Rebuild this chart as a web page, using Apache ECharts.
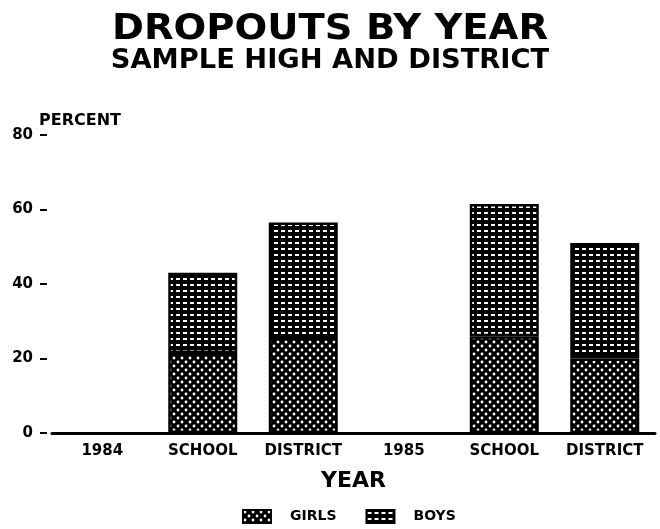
<!DOCTYPE html>
<html>
<head>
<meta charset="utf-8">
<script src="https://cdn.jsdelivr.net/npm/echarts@6/dist/echarts.min.js"></script>
<style>
html,body{margin:0;padding:0;background:#fff;}
#chart{width:660px;height:529px;}
</style>
</head>
<body>
<div id="chart"></div>
<script>
var titleText = 'DROPOUTS BY YEAR';
var subtitleText = 'SAMPLE HIGH AND DISTRICT';
var categories = ['1984', 'SCHOOL', 'DISTRICT', '1985', 'SCHOOL', 'DISTRICT'];
var girls = [null, 21.5, 25.5, null, 26, 20];
var boys = [null, 21.5, 31, null, 35.5, 31];
var yTicks = [0, 20, 40, 60, 80];

var FONT = '"DejaVu Sans", sans-serif';

function makeGirls() {
  var c = document.createElement('canvas');
  c.width = 8; c.height = 8;
  var g = c.getContext('2d');
  g.fillStyle = '#000'; g.fillRect(0, 0, 8, 8);
  g.fillStyle = '#fff';
  [[2, 2], [6, 6]].forEach(function (p) {
    g.beginPath(); g.arc(p[0], p[1], 1.4, 0, Math.PI * 2); g.fill();
  });
  return c;
}
function makeBoys() {
  var c = document.createElement('canvas');
  c.width = 7; c.height = 6;
  var g = c.getContext('2d');
  g.fillStyle = '#000'; g.fillRect(0, 0, 7, 6);
  g.fillStyle = '#fff';
  g.fillRect(1, 2, 4, 2);
  return c;
}
var girlsPattern = { image: makeGirls(), repeat: 'repeat' };
var boysPattern = { image: makeBoys(), repeat: 'repeat' };

var chart = echarts.init(document.getElementById('chart'), null, { renderer: 'canvas' });
chart.setOption({
  backgroundColor: '#fff',
  animation: false,
  textStyle: { fontFamily: FONT },
  graphic: [
    { type: 'text', left: 'center', top: 12, scaleX: 1.1,
      style: { text: titleText, font: 'bold 35px ' + FONT, fill: '#000' } },
    { type: 'text', left: 'center', top: 48, scaleX: 1.05,
      style: { text: subtitleText, font: 'bold 26px ' + FONT, fill: '#000' } }
  ],
  grid: { left: 52, right: 5, top: 135, bottom: 96, containLabel: false },
  legend: {
    left: 237, top: 504,
    itemWidth: 28, itemHeight: 13, itemGap: 29, icon: 'rect',
    textStyle: { fontFamily: FONT, fontWeight: 'bold', fontSize: 14, color: '#000', padding: [0, 0, 0, 14] },
    data: ['GIRLS', 'BOYS']
  },
  xAxis: {
    type: 'category',
    data: categories,
    name: 'YEAR', nameLocation: 'middle', nameGap: 37,
    nameTextStyle: { fontFamily: FONT, fontWeight: 'bold', fontSize: 22, color: '#000' },
    axisLine: { show: true, lineStyle: { color: '#000', width: 3 } },
    axisTick: { show: false },
    axisLabel: { interval: 0, margin: 11, fontFamily: FONT, fontWeight: 'bold', fontSize: 15, color: '#000' },
    splitLine: { show: false }
  },
  yAxis: {
    type: 'value', min: 0, max: 80, interval: 20, offset: 5,
    name: 'PERCENT', nameLocation: 'end', nameGap: 6,
    nameTextStyle: { fontFamily: FONT, fontWeight: 'bold', fontSize: 16, color: '#000', align: 'left', padding: [0, 0, 0, -8] },
    axisLine: { show: false },
    axisTick: { show: true, length: 7, lineStyle: { color: '#000', width: 2 } },
    axisLabel: { margin: 14, fontFamily: FONT, fontWeight: 'bold', fontSize: 15, color: '#000',
      formatter: function (v) { return yTicks.indexOf(v) >= 0 ? String(v) : ''; } },
    splitLine: { show: false }
  },
  series: [
    { name: 'GIRLS', type: 'bar', stack: 'total', data: girls, barWidth: 69,
      itemStyle: { color: girlsPattern, borderColor: '#000', borderWidth: 2.5 } },
    { name: 'BOYS', type: 'bar', stack: 'total', data: boys, barWidth: 69,
      itemStyle: { color: boysPattern, borderColor: '#000', borderWidth: 2.5 } }
  ]
});
</script>
</body>
</html>
